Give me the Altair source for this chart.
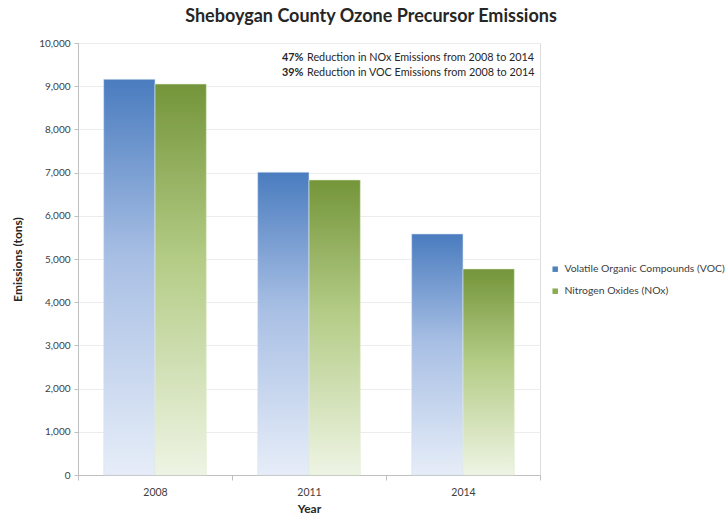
import altair as alt
import pandas as pd

years = ["2008", "2011", "2014"]
voc = [9160, 7010, 5580]
nox = [9050, 6830, 4770]
series_names = ["Volatile Organic Compounds (VOC)", "Nitrogen Oxides (NOx)"]
note_bold = ["47%", "39%"]
note_rest = ["Reduction in NOx Emissions from 2008 to 2014",
             "Reduction in VOC Emissions from 2008 to 2014"]
note_y = [9650, 9300]

rows = []
for i, y in enumerate(years):
    rows.append({"Year": y, "series": series_names[0], "value": voc[i], "zero": 0})
    rows.append({"Year": y, "series": series_names[1], "value": nox[i], "zero": 0})
df = pd.DataFrame(rows)

notes = pd.DataFrame({"bold": note_bold, "rest": note_rest, "y": note_y})

FONT = "Lato"

blue_grad = alt.Gradient(
    gradient="linear", x1=0, x2=0, y1=0, y2=1,
    stops=[alt.GradientStop(color="#4a7cbf", offset=0),
           alt.GradientStop(color="#a8bfe4", offset=0.45),
           alt.GradientStop(color="#e6edf8", offset=1)])
green_grad = alt.Gradient(
    gradient="linear", x1=0, x2=0, y1=0, y2=1,
    stops=[alt.GradientStop(color="#74953a", offset=0),
           alt.GradientStop(color="#b4cc86", offset=0.45),
           alt.GradientStop(color="#eef4e4", offset=1)])

xscale = alt.Scale(domain=years, paddingInner=0, paddingOuter=0)
yscale = alt.Scale(domain=[0, 10000])

x_enc = alt.X("Year:N", scale=xscale, sort=years,
              axis=alt.Axis(title="Year", labelAngle=0, tickBand="extent",
                            titleFontWeight="bold", titleFontSize=12,
                            titleColor="#262626", titlePadding=6,
                            labelFontSize=10.5, labelColor="#404040",
                            labelPadding=7, domainColor="#bfbfbf",
                            tickColor="#bfbfbf", tickSize=5, grid=False))
xoff = alt.XOffset("series:N", sort=series_names,
                   scale=alt.Scale(domain=series_names, paddingInner=0,
                                   paddingOuter=0.5))

y_axis = alt.Axis(title="Emissions (tons)", format=",.0f",
                  values=list(range(0, 10001, 1000)),
                  titleFontWeight="bold", titleFontSize=12,
                  titleColor="#262626", titlePadding=14,
                  labelFontSize=10, labelColor="#404040",
                  labelPadding=4, domainColor="#bfbfbf",
                  tickColor="#bfbfbf", tickSize=4,
                  gridColor="#ececec")

base = alt.Chart(df)

legend_layer = base.mark_bar().encode(
    x=x_enc, xOffset=xoff,
    y=alt.Y("zero:Q", scale=yscale, axis=y_axis),
    color=alt.Color("series:N", sort=series_names,
                    scale=alt.Scale(domain=series_names,
                                    range=["#4f81bd", "#8aab4e"]),
                    legend=alt.Legend(title=None, orient="none",
                                      legendX=472, legendY=221,
                                      symbolType="square", symbolSize=30,
                                      labelFontSize=10.4, labelColor="#404040",
                                      labelOffset=4,
                                      labelLimit=400, rowPadding=11)),
)

voc_layer = base.transform_filter(
    alt.datum.series == series_names[0]
).mark_bar(color=blue_grad, stroke="#dce6f2", strokeWidth=0.6).encode(
    x=x_enc, xOffset=xoff, y=alt.Y("value:Q", scale=yscale, axis=y_axis))

nox_layer = base.transform_filter(
    alt.datum.series == series_names[1]
).mark_bar(color=green_grad, stroke="#e4eed4", strokeWidth=0.6).encode(
    x=x_enc, xOffset=xoff, y=alt.Y("value:Q", scale=yscale, axis=y_axis))

note_b = alt.Chart(notes).mark_text(
    align="left", baseline="middle", font=FONT, fontSize=10.8,
    fontWeight="bold", color="#262626"
).encode(x=alt.value(204), y=alt.Y("y:Q", scale=yscale, axis=y_axis),
         text="bold:N")

note_r = alt.Chart(notes).mark_text(
    align="left", baseline="middle", font=FONT, fontSize=10.8,
    color="#262626"
).encode(x=alt.value(229), y=alt.Y("y:Q", scale=yscale, axis=y_axis),
         text="rest:N")

chart = alt.layer(legend_layer, voc_layer, nox_layer, note_b, note_r).properties(
    width=462, height=432,
    padding={"left": 78, "top": 43, "right": 185, "bottom": 42},
    autosize=alt.AutoSizeParams(type="none"),
    title=alt.TitleParams("Sheboygan County Ozone Precursor Emissions",
                          fontSize=18, fontWeight="bold", color="#262626",
                          font=FONT, anchor="middle", dx=62, offset=12),
).configure_view(stroke=None).configure(font=FONT)

chart.save("out.html", embed_options={"renderer": "svg", "actions": False})
